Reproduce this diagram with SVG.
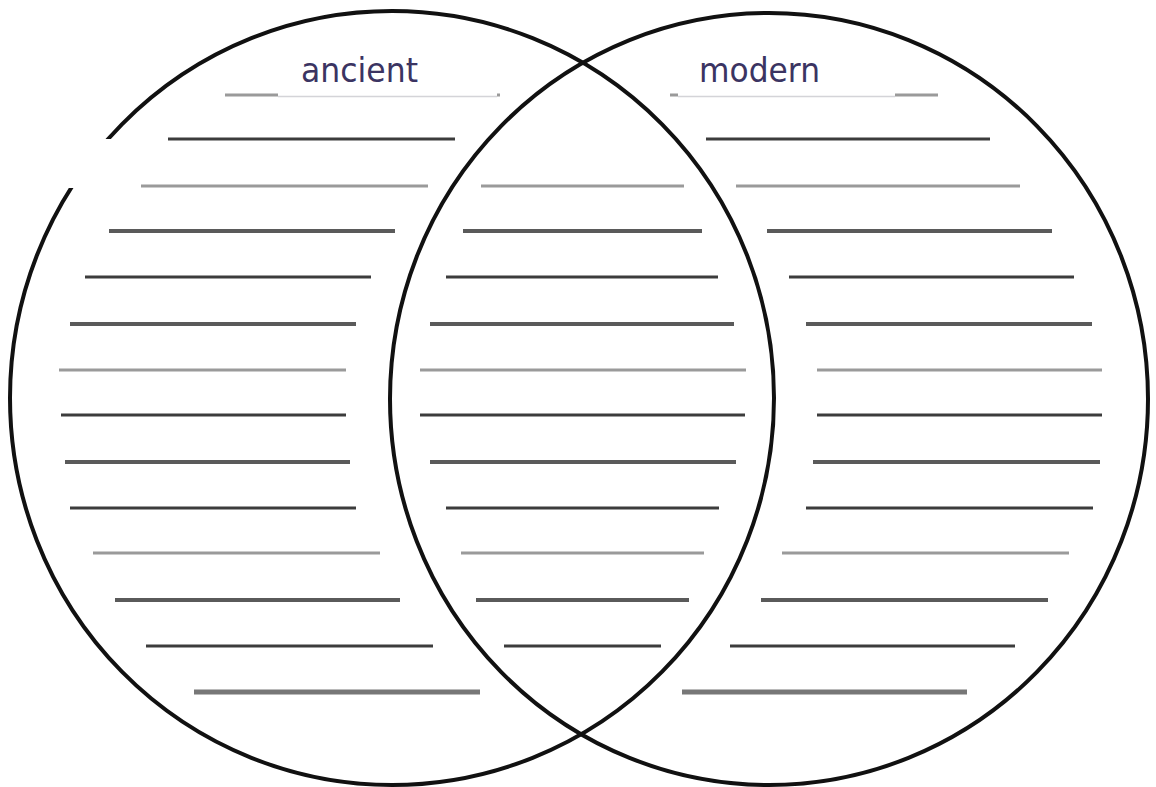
<svg xmlns="http://www.w3.org/2000/svg" width="1156" height="787" viewBox="0 0 1156 787">
<style>
.c{fill:none;stroke:#111;stroke-width:4}
.d{stroke:#3c3c3c;stroke-width:3;stroke-linecap:butt}
.m{stroke:#5a5a5a;stroke-width:4}
.l{stroke:#9a9a9a;stroke-width:3}
.g{stroke:#777;stroke-width:5}
.lbl{font-family:"DejaVu Sans","Liberation Sans",sans-serif;font-size:34px;fill:#3b3462}
.box{fill:#fff}
</style>
<rect width="1156" height="787" fill="#fff"/>
<g id="lines">
<line class="l" x1="225" y1="95" x2="500" y2="95"/>
<line class="l" x1="670" y1="95" x2="938" y2="95"/>
<line class="d" x1="168" y1="139" x2="455" y2="139"/>
<line class="d" x1="706" y1="139" x2="990" y2="139"/>
<line class="l" x1="141" y1="186" x2="428" y2="186"/>
<line class="l" x1="481" y1="186" x2="684" y2="186"/>
<line class="l" x1="736" y1="186" x2="1020" y2="186"/>
<line class="m" x1="109" y1="231" x2="395" y2="231"/>
<line class="m" x1="463" y1="231" x2="702" y2="231"/>
<line class="m" x1="767" y1="231" x2="1052" y2="231"/>
<line class="d" x1="85" y1="277" x2="371" y2="277"/>
<line class="d" x1="446" y1="277" x2="718" y2="277"/>
<line class="d" x1="789" y1="277" x2="1074" y2="277"/>
<line class="m" x1="70" y1="324" x2="356" y2="324"/>
<line class="m" x1="430" y1="324" x2="734" y2="324"/>
<line class="m" x1="806" y1="324" x2="1092" y2="324"/>
<line class="l" x1="59" y1="370" x2="346" y2="370"/>
<line class="l" x1="420" y1="370" x2="746" y2="370"/>
<line class="l" x1="817" y1="370" x2="1102" y2="370"/>
<line class="d" x1="61" y1="415" x2="346" y2="415"/>
<line class="d" x1="420" y1="415" x2="745" y2="415"/>
<line class="d" x1="817" y1="415" x2="1102" y2="415"/>
<line class="m" x1="65" y1="462" x2="350" y2="462"/>
<line class="m" x1="430" y1="462" x2="736" y2="462"/>
<line class="m" x1="813" y1="462" x2="1100" y2="462"/>
<line class="d" x1="70" y1="508" x2="356" y2="508"/>
<line class="d" x1="446" y1="508" x2="719" y2="508"/>
<line class="d" x1="806" y1="508" x2="1093" y2="508"/>
<line class="l" x1="93" y1="553" x2="380" y2="553"/>
<line class="l" x1="461" y1="553" x2="704" y2="553"/>
<line class="l" x1="782" y1="553" x2="1069" y2="553"/>
<line class="m" x1="115" y1="600" x2="400" y2="600"/>
<line class="m" x1="476" y1="600" x2="689" y2="600"/>
<line class="m" x1="761" y1="600" x2="1048" y2="600"/>
<line class="d" x1="146" y1="646" x2="433" y2="646"/>
<line class="d" x1="504" y1="646" x2="661" y2="646"/>
<line class="d" x1="730" y1="646" x2="1015" y2="646"/>
<line class="g" x1="194" y1="692" x2="480" y2="692"/>
<line class="g" x1="682" y1="692" x2="967" y2="692"/>
</g>
<g id="circles">
<ellipse id="left-circle" class="c" cx="392" cy="398" rx="382" ry="387"/>
<ellipse id="right-circle" class="c" cx="769" cy="399" rx="379" ry="386"/>
</g>
<rect class="box" x="60" y="139" width="73" height="49"/>
<g id="ancient">
<rect class="box" x="278" y="45" width="219" height="51"/>
<line x1="278" y1="96.5" x2="497" y2="96.5" stroke="#d4d4d8" stroke-width="1.5"/>
<text class="lbl" x="301" y="82" textLength="117" lengthAdjust="spacingAndGlyphs">ancient</text>
</g>
<g id="modern">
<rect class="box" x="678" y="45" width="217" height="51"/>
<line x1="678" y1="96.5" x2="895" y2="96.5" stroke="#d4d4d8" stroke-width="1.5"/>
<text class="lbl" x="699" y="82" textLength="121" lengthAdjust="spacingAndGlyphs">modern</text>
</g>
</svg>
